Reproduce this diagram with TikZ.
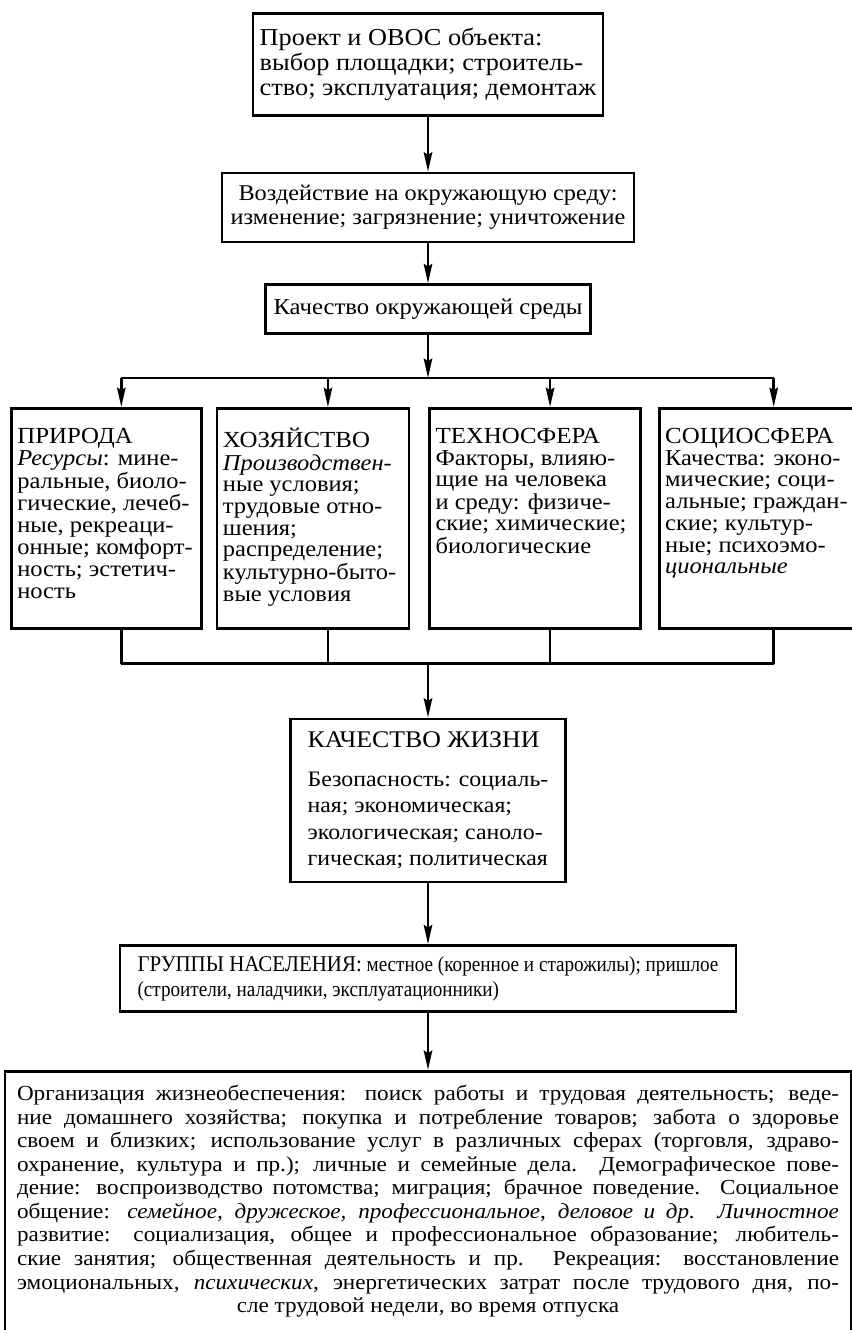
\documentclass[tikz,border=0pt]{standalone}
\usepackage{fontspec}
\setmainfont{Liberation Serif}[FakeStretch=1.08]
\usetikzlibrary{positioning,arrows.meta}

\newcommand{\coltext}[2]{\parbox[c][3.6cm][t]{#1}{\begin{tabular}[t]{@{}l@{}}#2\end{tabular}}}
\newcommand{\headfont}{\fontsize{13.1}{13.1}\selectfont}
\newlength{\orgwidth}
\setlength{\orgwidth}{16.44cm}
\newcommand{\orgline}[1]{\makebox[\orgwidth][s]{#1}}

\begin{document}
\begin{tikzpicture}[%
    >={Stealth[length=11pt,width=4.8pt,inset=1.5pt]},
    line width=1.5pt,
    box/.style={%
      draw,
      align=left,
      inner sep=0pt,
      font=\fontsize{12.8}{13.7}\selectfont
    },
    column/.style={%
      draw,
      inner xsep=0.12cm,
      inner ysep=0.4cm,
      font=\fontsize{12.9}{12.35}\selectfont
    }
  ]
    \useasboundingbox (0,0) rectangle (17.02,-26.6);

    \node[box, anchor=north, minimum width=7cm, minimum height=2.04cm,
          font=\fontsize{13.85}{14}\selectfont] (proj) at (8.56,-0.24)
      {Проект и ОВОС объекта:\\ выбор площадки; строитель-\\ ство; эксплуатация; демонтаж};
    \node[box, align=center, minimum width=8.24cm, minimum height=1.38cm] (impact) [below=1.1cm of proj]
      {Воздействие на окружающую среду:\\ изменение; загрязнение; уничтожение};
    \node[box, minimum width=6.5cm, minimum height=0.98cm,
          font=\fontsize{13}{14}\selectfont] (env) [below=0.8cm of impact]
      {Качество окружающей среды};
    \coordinate[below=0.86cm of env] (split);

    \node[column, anchor=north west] (nature) at (0.2,-8.14)
      {\coltext{3.56cm}{{\headfont ПРИРОДА}\\ \textit{Ресурсы}: мине-\\ ральные, биоло-\\ гические, лечеб-\\
        ные, рекреаци-\\ онные; комфорт-\\ ность; эстетич-\\ ность}};
    \node[column] (economy) [right=0.26cm of nature]
      {\coltext{3.6cm}{{\headfont ХОЗЯЙСТВО}\\ \textit{Производствен-}\\ ные условия;\\ трудовые отно-\\
        шения;\\ распределение;\\ культурно-быто-\\ вые условия}};
    \node[column] (techno) [right=0.36cm of economy]
      {\coltext{3.98cm}{{\headfont ТЕХНОСФЕРА}\\ Факторы, влияю-\\ щие на человека\\ и среду: физиче-\\
        ские; химические;\\ биологические}};
    \node[column] (socio) [right=0.32cm of techno]
      {\coltext{3.74cm}{{\headfont СОЦИОСФЕРА}\\ Качества: эконо-\\ мические; соци-\\ альные; граждан-\\
        ские; культур-\\ ные; психоэмо-\\ \textit{циональные}}};

    \coordinate (merge) at ([yshift=-0.68cm]env.south |- nature.south);

    \node[box, minimum width=5.5cm, minimum height=3.26cm,
          font=\fontsize{12.55}{15}\selectfont] (life) [below=1.08cm of merge]
      {{\fontsize{13.6}{14}\selectfont КАЧЕСТВО ЖИЗНИ}\\[7pt] Безопасность: социаль-\\ ная; экономическая;\\
        экологическая; саноло-\\ гическая; политическая};
    \node[box, minimum width=12.32cm, minimum height=1.32cm,
          font=\fontsize{12.25}{14.5}\selectfont\addfontfeature{FakeStretch=0.89}] (groups) [below=1.22cm of life]
      {{\fontsize{12.8}{14.5}\selectfont\addfontfeature{FakeStretch=0.93}ГРУППЫ НАСЕЛЕНИЯ:} местное (коренное и старожилы); пришлое\\
        (строители, наладчики, эксплуатационники)};
    \node[box, align=center, minimum width=16.92cm, minimum height=5.2cm,
          font=\fontsize{12.2}{13.4}\selectfont] (org) [below=1.14cm of groups]
      {\orgline{Организация жизнеобеспечения: поиск работы и трудовая деятельность; веде-}\\
       \orgline{ние домашнего хозяйства; покупка и потребление товаров; забота о здоровье}\\
       \orgline{своем и близких; использование услуг в различных сферах (торговля, здраво-}\\
       \orgline{охранение, культура и пр.); личные и семейные дела. Демографическое пове-}\\
       \orgline{дение: воспроизводство потомства; миграция; брачное поведение. Социальное}\\
       \orgline{общение: \textit{семейное, дружеское, профессиональное, деловое и др. Личностное}}\\
       \orgline{развитие: социализация, общее и профессиональное образование; любитель-}\\
       \orgline{ские занятия; общественная деятельность и пр. Рекреация: восстановление}\\
       \orgline{эмоциональных, \textit{психических}, энергетических затрат после трудового дня, по-}\\
       сле трудовой недели, во время отпуска};

    \draw[->] (proj) -- (impact);
    \draw[->] (impact) -- (env);
    \draw[->] (env) -- (split);
    \draw ([xshift=3mm]nature.north |- split) -- ([xshift=3mm]socio.north |- split);
    \foreach \col in {nature,economy,techno,socio}
      \draw[->] ([xshift=3mm]\col.north |- split) -- ([xshift=3mm]\col.north);
    \foreach \col in {nature,economy,techno,socio}
      \draw ([xshift=3mm]\col.south) -- ([xshift=3mm]\col.south |- merge);
    \draw ([xshift=3mm]nature.south |- merge) -- ([xshift=3mm]socio.south |- merge);
    \draw[->] (merge) -- (life);
    \draw[->] (life) -- (groups);
    \draw[->] (groups) -- (org);
  \end{tikzpicture}
\end{document}
